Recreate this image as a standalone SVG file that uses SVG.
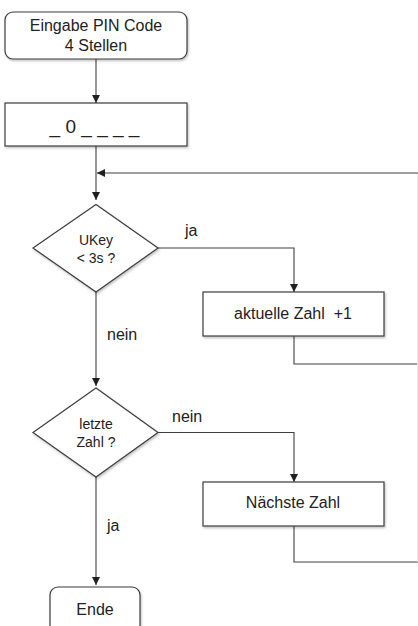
<svg xmlns="http://www.w3.org/2000/svg" width="418" height="626" viewBox="0 0 418 626">
<style>
  .shape { fill: #ffffff; stroke: #3c3c3c; stroke-width: 1.2; filter: url(#sh); }
  .conn { fill: none; stroke: #404040; stroke-width: 1.1; }
  .edge { fill: none; stroke: #e6e6e6; stroke-width: 1; }
  text { font-family: "Liberation Sans", Arial, sans-serif; fill: #222222; text-anchor: middle; }
  .t16 { font-size: 16px; }
  .t14 { font-size: 14px; }
  .t19 { font-size: 19px; }
  .lbl { font-size: 16px; text-anchor: start; }
</style>
<defs>
  <filter id="sh" x="-10%" y="-10%" width="130%" height="140%">
    <feDropShadow dx="1" dy="1.5" stdDeviation="1" flood-color="#000" flood-opacity="0.25"/>
  </filter>
  <marker id="arr" markerUnits="userSpaceOnUse" markerWidth="8" markerHeight="8" refX="8" refY="4" orient="auto">
    <path d="M0,0 L8,4 L0,8 z" fill="#202020"/>
  </marker>
</defs>
<rect width="418" height="626" fill="#ffffff"/>

<g id="connectors">
  <path class="conn" d="M96 59 V103" marker-end="url(#arr)"/>
  <path class="conn" d="M96 146 V200" marker-end="url(#arr)"/>
  <path class="conn" d="M294 336 V364 H418"/>
  <path class="conn" d="M294 526 V562 H418"/>
  <path class="edge" d="M417.5 562 V173"/>
  <path class="conn" d="M418 173 H97" marker-end="url(#arr)"/>
  <path class="conn" d="M158 248 H294 V292" marker-end="url(#arr)"/>
  <path class="conn" d="M96 292 V386" marker-end="url(#arr)"/>
  <path class="conn" d="M158 432.5 H294 V482" marker-end="url(#arr)"/>
  <path class="conn" d="M96 477 V585" marker-end="url(#arr)"/>
  <text class="lbl" x="185" y="236">ja</text>
  <text class="lbl" x="107" y="340">nein</text>
  <text class="lbl" x="172" y="422">nein</text>
  <text class="lbl" x="107" y="531">ja</text>
</g>

<g id="start">
  <rect class="shape" x="5" y="12" width="182" height="47" rx="8"/>
  <text class="t16" x="96" y="31">Eingabe PIN Code</text>
  <text class="t16" x="96" y="51">4 Stellen</text>
</g>

<g id="pin">
  <rect class="shape" x="5" y="103" width="182" height="43"/>
  <text class="t19" x="94.5" y="133" xml:space="preserve">_ 0 _ _ _ _</text>
</g>

<g id="ukey">
  <polygon class="shape" points="96,204.5 158,248 96,292 33,248"/>
  <text class="t14" x="96" y="245">UKey</text>
  <text class="t14" x="96" y="263">&lt; 3s ?</text>
</g>

<g id="increment">
  <rect class="shape" x="203" y="292" width="181" height="44"/>
  <text class="t16" x="293" y="319" xml:space="preserve">aktuelle Zahl  +1</text>
</g>

<g id="last">
  <polygon class="shape" points="96,388 158,432.5 96,477 33,432.5"/>
  <text class="t14" x="96" y="429">letzte</text>
  <text class="t14" x="96" y="447">Zahl ?</text>
</g>

<g id="next">
  <rect class="shape" x="203" y="482" width="181" height="44"/>
  <text class="t16" x="293" y="508">Nächste Zahl</text>
</g>

<g id="end">
  <rect class="shape" x="50" y="587" width="90" height="55" rx="8"/>
  <text class="t16" x="95" y="615">Ende</text>
</g>
</svg>
